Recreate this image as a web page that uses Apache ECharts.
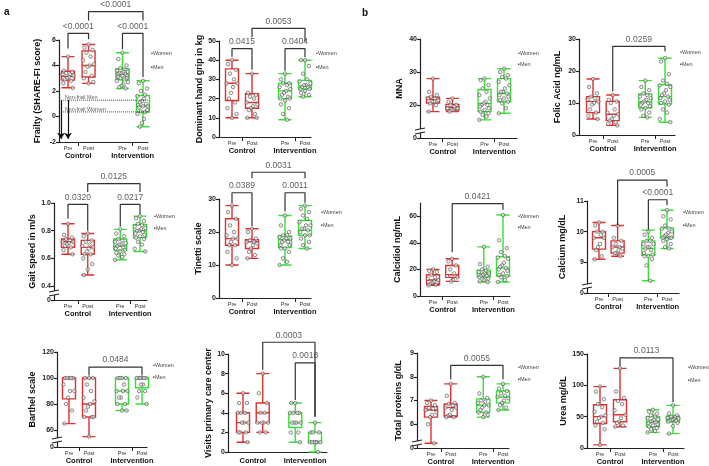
<!DOCTYPE html>
<html>
<head>
<meta charset="utf-8">
<script src="https://cdn.jsdelivr.net/npm/echarts@6/dist/echarts.min.js"></script>
<style>
  html, body { margin: 0; padding: 0; background: #fff; }
  #chart { width: 709px; height: 466px; }
</style>
</head>
<body>
<div id="chart"></div>
<script>
// categories
const groupLabels = ['Pre', 'Post', 'Pre', 'Post'];
const armLabels = ['Control', 'Intervention'];
const xPos = [1, 2, 3.65, 4.65];
const armPos = [1.5, 4.15];

// box stats per group: [min, Q1, median, Q3, max]  (Control Pre, Control Post, Intervention Pre, Intervention Post)
const frailtyBox = [[2.25, 2.85, 3.15, 3.55, 4.7], [2.6, 3.1, 4.0, 5.15, 5.65], [2.2, 2.9, 3.3, 3.75, 5.0], [-0.8, 0.35, 0.8, 1.65, 2.8]];
const gripBox = [[10, 19, 28, 35.5, 40], [10, 15, 18, 22.5, 33], [9, 20, 24, 28, 33], [21, 25, 26.5, 29.5, 40]];
const gaitBox = [[0.63, 0.68, 0.72, 0.74, 0.85], [0.48, 0.63, 0.68, 0.73, 0.78], [0.59, 0.66, 0.69, 0.74, 0.81], [0.65, 0.75, 0.80, 0.845, 0.905]];
const tinettiBox = [[10, 16, 18, 24, 28], [12, 15, 17, 17.7, 21], [10, 15.3, 17.7, 18.8, 25], [15, 19, 20.5, 23.5, 28]];
const barthelBox = [[65, 84, 100, 100, 100], [55, 70, 80, 100, 100], [75, 80, 90, 100, 100], [80, 92.5, 100, 100, 100]];
const visitsBox = [[1, 2, 3, 4, 6], [2, 3, 4, 5, 8], [1, 2.5, 3, 4, 5], [0, 1, 1, 2, 3]];
const mnaBox = [[18, 20.6, 21.7, 22.4, 28], [18, 18.5, 19.3, 20.2, 22], [15.5, 18, 20.5, 24.7, 28], [17.5, 21, 23.5, 28, 31]];
const folicBox = [[5, 7, 10.5, 12, 17.5], [3, 4.5, 6.5, 10.5, 12.5], [5.5, 8.5, 10.3, 12.8, 17], [4, 9.7, 12, 15.7, 24]];
const calcidiolBox = [[8, 9, 12, 16, 20], [11, 14, 16, 23, 28], [10.5, 14.5, 17, 19.5, 37], [10.5, 15, 21, 29.5, 61]];
const calciumBox = [[9.1, 9.43, 9.8, 10, 10.3], [9.2, 9.3, 9.5, 9.7, 10.2], [8.4, 9.23, 9.45, 9.7, 10.05], [9.45, 9.8, 9.83, 10.12, 10.7]];
const proteinBox = [[5.2, 6.3, 6.6, 6.75, 7.0], [6.3, 6.35, 6.7, 6.85, 7.7], [6.3, 6.5, 6.8, 7.07, 8.0], [6.6, 6.9, 7.15, 7.4, 7.7]];
const ureaBox = [[5, 39, 50, 69, 98], [34, 42, 53, 77, 127], [25, 34, 42, 50, 61], [23, 42, 47, 51, 68]];

// individual points per group
const frailtyPts = [
  [4.7, 3.6, 3.5, 3.4, 3.3, 3.3, 3.2, 3.1, 3.0, 2.9, 2.8, 2.6, 2.25],
  [5.65, 5.4, 5.2, 5.0, 4.7, 4.4, 4.1, 4.0, 3.9, 3.5, 3.2, 3.0, 2.7, 2.6],
  [5.0, 4.5, 4.0, 3.8, 3.7, 3.6, 3.5, 3.5, 3.4, 3.4, 3.3, 3.3, 3.2, 3.2, 3.1, 3.0, 3.0, 2.9, 2.8, 2.7, 2.5, 2.4, 2.3, 2.2],
  [2.8, 2.6, 2.2, 2.0, 1.7, 1.6, 1.5, 1.4, 1.2, 1.1, 1.0, 0.9, 0.8, 0.8, 0.7, 0.5, 0.4, 0.35, 0.2, 0.1, -0.2, -0.5, -0.8]
];
const gripPts = [
  [40, 38, 35, 33, 30, 28, 28, 26, 23, 20, 18, 15, 12, 10],
  [33, 23, 22, 21, 20, 18, 17, 16, 15, 14, 12, 10, 10],
  [33, 30, 28, 28, 27, 26, 25, 24, 23, 22, 21, 20, 20, 19, 17, 15, 12, 9],
  [40, 40, 37, 33, 30, 29, 28, 27, 27, 26, 26, 25, 25, 24, 23, 22, 21]
];
const gaitPts = [
  [0.85, 0.77, 0.75, 0.74, 0.73, 0.72, 0.72, 0.71, 0.70, 0.69, 0.68, 0.66, 0.63],
  [0.78, 0.76, 0.73, 0.72, 0.70, 0.69, 0.68, 0.67, 0.65, 0.63, 0.63, 0.60, 0.56, 0.52, 0.48],
  [0.81, 0.78, 0.76, 0.74, 0.73, 0.72, 0.71, 0.70, 0.70, 0.69, 0.68, 0.67, 0.66, 0.65, 0.64, 0.63, 0.62, 0.61, 0.59],
  [0.905, 0.89, 0.87, 0.85, 0.84, 0.83, 0.82, 0.81, 0.80, 0.80, 0.79, 0.78, 0.77, 0.76, 0.75, 0.74, 0.72, 0.70, 0.67, 0.65]
];
const tinettiPts = [
  [28, 26, 24, 22, 20, 19, 18, 18, 17, 16, 16, 14, 12, 10],
  [21, 20, 18, 17.5, 17, 17, 16.5, 16, 15, 14, 13, 12],
  [25, 22, 20, 19, 19, 18.5, 18, 18, 17.5, 17, 17, 16, 16, 15, 15, 14, 12, 11, 10],
  [28, 27, 26, 25, 24, 23, 22, 22, 21, 21, 20.5, 20, 19, 19, 18, 17, 16, 15]
];
const barthelPts = [
  [100, 100, 100, 100, 100, 95, 90, 90, 85, 80, 75, 65],
  [100, 100, 100, 95, 90, 85, 82, 80, 78, 75, 70, 70, 70, 55],
  [100, 100, 100, 100, 95, 90, 90, 90, 85, 85, 80, 80, 75, 75],
  [100, 100, 100, 100, 100, 100, 95, 95, 95, 90, 90, 85, 80]
];
const visitsPts = [
  [6, 5, 5, 4, 4, 4, 3, 3, 3, 2, 2, 2, 1],
  [8, 6, 5, 4, 4, 3, 3, 3, 3, 2, 2],
  [5, 5, 4, 4, 4, 4, 3, 3, 3, 3, 2, 2, 1],
  [3, 2, 2, 2, 1, 1, 1, 1, 1, 1, 0]
];
const mnaPts = [
  [28, 24, 23, 22.5, 22, 22, 21.5, 21, 21, 20.5, 20, 18],
  [22, 21, 20, 20, 19.5, 19, 19, 18.5, 18.5, 18],
  [28, 27.5, 26, 25, 24, 23, 22, 21, 20.5, 20, 20, 19.5, 19, 18.5, 18, 17.5, 17, 16.5, 15.5],
  [31, 30, 29, 28.5, 28, 27, 26, 25, 24, 24, 23.5, 23, 22.5, 22, 21.5, 21, 20.5, 19, 17.5]
];
const folicPts = [
  [17.5, 15, 13, 12, 11.5, 11, 10.5, 10, 9.5, 8, 7, 6, 5],
  [12.5, 11, 10.5, 10, 8, 7, 6.5, 6, 5, 4.5, 4, 3.5, 3],
  [17, 15, 14, 13, 12.5, 12, 11.5, 11, 10.5, 10, 10, 9.5, 9, 8.5, 8, 7, 6, 5.5],
  [24, 23, 19, 17, 16, 15.5, 15, 14, 13, 12.5, 12, 11.5, 11, 10.5, 10, 9.5, 8, 7, 5, 4]
];
const calcidiolPts = [
  [20, 19, 18, 16, 14, 13, 12, 11, 10, 9, 8.5, 8],
  [28, 26, 23, 20, 17, 15, 14, 12, 11],
  [37, 24, 22, 20, 19, 18, 17, 17, 16, 15, 15, 14, 13, 12, 11, 10.5],
  [61, 42, 36, 33, 30, 29, 28, 25, 23, 22, 21, 20, 19, 17, 16, 15, 14, 12, 10.5]
];
const calciumPts = [
  [10.3, 10.2, 10.0, 10.0, 9.9, 9.8, 9.8, 9.6, 9.5, 9.4, 9.2, 9.1],
  [10.2, 9.8, 9.7, 9.6, 9.5, 9.5, 9.45, 9.4, 9.3, 9.3, 9.2],
  [10.0, 9.9, 9.8, 9.7, 9.7, 9.6, 9.6, 9.5, 9.5, 9.45, 9.4, 9.3, 9.25, 9.2, 9.2, 9.1, 8.9, 8.4],
  [10.7, 10.5, 10.4, 10.2, 10.1, 10.1, 10.0, 9.95, 9.9, 9.85, 9.8, 9.8, 9.8, 9.75, 9.7, 9.6, 9.5, 9.45]
];
const proteinPts = [
  [7.0, 6.9, 6.8, 6.7, 6.65, 6.6, 6.5, 6.4, 6.3, 6.0, 5.2],
  [7.7, 7.2, 6.9, 6.85, 6.8, 6.7, 6.7, 6.6, 6.4, 6.35, 6.3, 6.3],
  [8.0, 7.3, 7.1, 7.0, 6.95, 6.9, 6.8, 6.8, 6.7, 6.6, 6.5, 6.5, 6.4, 6.3],
  [7.7, 7.5, 7.4, 7.3, 7.2, 7.15, 7.1, 7.0, 6.9, 6.8, 6.7, 6.6]
];
const ureaPts = [
  [98, 90, 78, 70, 65, 58, 52, 50, 48, 42, 40, 36, 30, 5],
  [127, 90, 80, 75, 70, 60, 53, 48, 42, 40, 36, 34],
  [61, 58, 55, 52, 50, 48, 46, 45, 43, 42, 41, 40, 38, 36, 34, 32, 30, 27, 25],
  [68, 55, 52, 50, 49, 48, 47, 46, 45, 44, 43, 42, 40, 35, 23]
];

// significance brackets: [group A, group B, bracket top, leg A bottom, leg B bottom, p-value]
const frailtyBr = [[0, 1, 6.52, 5.34, 6.05, '<0.0001'], [2, 3, 6.52, 5.27, 3.1, '<0.0001'], [1, 3, 8.23, 7.52, 7.52, '<0.0001']];
const gripBr = [[0, 1, 46, 41.8, 35, '0.0415'], [2, 3, 46, 34.5, 41.5, '0.0404'], [1, 3, 56.6, 52, 49.7, '0.0053']];
const gaitBr = [[0, 1, 0.99, 0.887, 0.80, '0.0320'], [2, 3, 0.99, 0.83, 0.92, '0.0217'], [1, 3, 1.14, 1.08, 1.08, '0.0125']];
const tinettiBr = [[0, 1, 31.9, 28.7, 21.8, '0.0389'], [2, 3, 31.9, 26.2, 28.9, '0.0011'], [1, 3, 38.1, 36.3, 36.3, '0.0031']];
const barthelBr = [[1, 3, 108.4, 102, 102, '0.0484']];
const visitsBr = [[1, 3, 11.2, 8.4, 3.6, '0.0003'], [2, 3, 9.1, 5.3, 3.6, '0.0018']];
const folicBr = [[1, 3, 27.7, 13.6, 26.1, '0.0259']];
const calcidiolBr = [[1, 3, 69.5, 33, 65, '0.0421']];
const calciumBr = [[1, 3, 11.68, 10.22, 11.47, '0.0005'], [2, 3, 11.04, 10.06, 10.86, '<0.0001']];
const proteinBr = [[1, 3, 8.48, 7.9, 7.9, '0.0055']];
const ureaBr = [[1, 3, 143.7, 130.6, 73, '0.0113']];

// frailty cut-offs
const frailtyCutoffs = [[1.28, 'Non-frail Men'], [0.36, 'Non-frail Women']];

const FONT = '"Liberation Sans", Arial, sans-serif';
const RED = '#e2302c';
const GREEN = '#36e036';
const armColor = [RED, RED, GREEN, GREEN];
const JIT = [0, -0.2, 0.2, -0.1, 0.1, -0.27, 0.27, 0.05, -0.05, -0.15, 0.15, -0.23, 0.23];

// layout of each panel (pixels)
const panels = [
  { name: 'Frailty (SHARE-FI score)', box: frailtyBox, pts: frailtyPts, br: frailtyBr, left: 59, top: 40, height: 102, p0: 68, p3: 143, right: 148, yMin: -2, yMax: 6, ticks: [-2, 0, 2, 4, 6], gap: 17, legend: [151, 53, 67] },
  { name: 'Dominant hand grip in kg', box: gripBox, pts: gripPts, br: gripBr, left: 219, top: 41, height: 96, p0: 232, p3: 305, right: 311, yMin: 0, yMax: 50, ticks: [0, 10, 20, 30, 40, 50], gap: 14, legend: [316, 53, 67] },
  { name: 'Gait speed in m/s', box: gaitBox, pts: gaitPts, br: gaitBr, left: 54, top: 203, height: 97, p0: 68, p3: 140, right: 147, yMin: 0.3, yMax: 1.0, ticks: [0.3, 0.4, 0.6, 0.8, 1.0], dec: 1, broken: true, gap: 16, legend: [154, 216, 228] },
  { name: 'Tinetti scale', box: tinettiBox, pts: tinettiPts, br: tinettiBr, left: 219, top: 199, height: 99, p0: 232, p3: 305, right: 311, yMin: 0, yMax: 30, ticks: [0, 10, 20, 30], gap: 16, legend: [321, 212, 225] },
  { name: 'Barthel scale', box: barthelBox, pts: barthelPts, br: barthelBr, left: 57, top: 352, height: 95, p0: 69, p3: 142, right: 147, yMin: 47, yMax: 120, ticks: [47, 60, 80, 100, 120], broken: true, gap: 20, legend: [153, 365, 377] },
  { name: 'Visits primary care center', box: visitsBox, pts: visitsPts, br: visitsBr, left: 228, top: 354, height: 98, p0: 243, p3: 315, right: 327, yMin: 0, yMax: 10, ticks: [0, 2, 4, 6, 8, 10], gap: 11, noPrePost: true },
  { name: 'MNA', box: mnaBox, pts: mnaPts, br: [], left: 420, top: 39, height: 99, p0: 433, p3: 504, right: 517, yMin: 10, yMax: 40, ticks: [10, 20, 30, 40], broken: true, gap: 16, legend: [518, 53, 64] },
  { name: 'Folic Acid ng/mL', box: folicBox, pts: folicPts, br: folicBr, left: 579, top: 39, height: 96, p0: 593, p3: 665, right: 675, yMin: 0, yMax: 30, ticks: [0, 10, 20, 30], gap: 17, legend: [680, 52, 64] },
  { name: 'Calcidiol ng/mL', box: calcidiolBox, pts: calcidiolPts, br: calcidiolBr, left: 420, top: 203, height: 93, p0: 433, p3: 503, right: 510, yMin: 0, yMax: 70, ticks: [0, 20, 40, 60], gap: 18, legend: [518, 216, 227] },
  { name: 'Calcium mg/dL', box: calciumBox, pts: calciumPts, br: calciumBr, left: 587, top: 201, height: 92, p0: 599, p3: 667, right: 679, yMin: 8, yMax: 11, ticks: [8, 9, 10, 11], broken: true, gap: 20, legend: [683, 212, 225] },
  { name: 'Total proteins g/dL', box: proteinBox, pts: proteinPts, br: proteinBr, left: 417, top: 353, height: 97, p0: 431, p3: 503, right: 509, yMin: 5, yMax: 9, ticks: [5, 6, 7, 8, 9], broken: true, gap: 14, legend: [518, 367, 379] },
  { name: 'Urea mg/dL', box: ureaBox, pts: ureaPts, br: ureaBr, left: 587, top: 354, height: 96, p0: 600, p3: 673, right: 684, yMin: 0, yMax: 150, ticks: [0, 50, 100, 150], gap: 18, legend: [688, 367, 380] }
];

const grids = [], xAxes = [], yAxes = [], series = [], graphics = [];
const nearestGroup = v => groupLabels[xPos.findIndex(p => Math.abs(p - v) < 0.01)] || '';

panels.forEach((p, i) => {
  const ppu = (p.p3 - p.p0) / (xPos[3] - xPos[0]);
  const xMin = xPos[0] - (p.p0 - p.left) / ppu;
  const xMax = xPos[3] + (p.right - p.p3) / ppu;
  grids.push({ left: p.left, top: p.top, width: p.right - p.left, height: p.height });

  // main x axis (Pre / Post)
  xAxes.push({
    gridIndex: i, type: 'value', min: xMin, max: xMax, position: 'bottom',
    axisLine: { show: true, onZero: false, lineStyle: { color: '#222', width: 1.2 } },
    axisTick: { show: !p.noPrePost, customValues: armPos, length: 4, lineStyle: { color: '#222', width: 1 } },
    axisLabel: { show: !p.noPrePost, customValues: xPos, formatter: nearestGroup, fontFamily: FONT, fontSize: 5.5, color: '#333', margin: 3 },
    splitLine: { show: false }
  });
  // group labels (Control / Intervention)
  xAxes.push({
    gridIndex: i, type: 'value', min: xMin, max: xMax, position: 'bottom',
    axisLine: { show: false, onZero: false }, axisTick: { show: false }, splitLine: { show: false },
    axisLabel: { customValues: armPos, formatter: v => (v < 3 ? armLabels[0] : armLabels[1]), fontFamily: FONT, fontSize: 7.5, fontWeight: 'bold', color: '#111', margin: p.noPrePost ? 5 : 10 }
  });
  yAxes.push({
    gridIndex: i, type: 'value', min: p.yMin, max: p.yMax,
    name: p.name, nameLocation: 'middle', nameGap: p.gap,
    nameTextStyle: { fontFamily: FONT, fontWeight: 'bold', fontSize: 9, color: '#111' },
    axisLine: { show: true, onZero: false, lineStyle: { color: '#222', width: 1.2 } },
    axisTick: { show: true, customValues: p.ticks, length: 3, lineStyle: { color: '#222', width: 1.2 } },
    axisLabel: {
      customValues: p.ticks, margin: 3, fontFamily: FONT, fontWeight: 'bold', fontSize: 7, color: '#222',
      formatter: v => (p.broken && v === p.yMin) ? '0' : (p.dec ? v.toFixed(p.dec) : String(v))
    },
    splitLine: { show: false }
  });

  series.push({
    type: 'boxplot', xAxisIndex: 2 * i, yAxisIndex: i, boxWidth: [13, 13], silent: true, z: 2,
    encode: { x: 0, y: [1, 2, 3, 4, 5] },
    data: p.box.map((b, g) => ({ value: [xPos[g], ...b], itemStyle: { color: 'rgba(255,255,255,0)', borderColor: armColor[g], borderWidth: 1.4 } }))
  });

  const pts = [];
  p.pts.forEach((vals, g) => vals.forEach((v, k) => pts.push([xPos[g] + JIT[k % JIT.length], v])));
  series.push({
    type: 'scatter', xAxisIndex: 2 * i, yAxisIndex: i, silent: true, z: 3, symbol: 'circle', symbolSize: 3.5,
    itemStyle: { color: 'rgba(235,235,235,0.8)', borderColor: '#555', borderWidth: 0.8 },
    data: pts
  });

  p.br.forEach(b => {
    const [ga, gb, top, la, lb, txt] = b;
    series.push({
      type: 'line', xAxisIndex: 2 * i, yAxisIndex: i, silent: true, clip: false, z: 5, symbol: 'none',
      lineStyle: { color: '#333', width: 1.2 },
      data: [[xPos[ga], la], [xPos[ga], top], [xPos[gb], top], [xPos[gb], lb]]
    });
    series.push({
      type: 'scatter', xAxisIndex: 2 * i, yAxisIndex: i, silent: true, clip: false, z: 5, symbolSize: 1,
      itemStyle: { color: 'rgba(0,0,0,0)' },
      label: { show: true, position: 'top', distance: 2, formatter: txt, fontFamily: FONT, fontSize: 8.5, color: '#333' },
      data: [[(xPos[ga] + xPos[gb]) / 2, top]]
    });
  });

  if (i === 0) {
    frailtyCutoffs.forEach(c => {
      series.push({
        type: 'line', xAxisIndex: 0, yAxisIndex: 0, silent: true, z: 4, symbol: 'none',
        lineStyle: { color: '#444', width: 1, type: 'dotted' },
        data: [[xMin + 0.2, c[0]], [xMax, c[0]]]
      });
      series.push({
        type: 'scatter', xAxisIndex: 0, yAxisIndex: 0, silent: true, z: 4, symbolSize: 1,
        itemStyle: { color: 'rgba(0,0,0,0)' },
        label: { show: true, position: 'right', distance: 0, formatter: c[1], fontFamily: FONT, fontSize: 5.5, color: '#333' },
        data: [[xMin + 0.25, c[0] + 0.2]]
      });
    });
    series.push({
      type: 'scatter', xAxisIndex: 0, yAxisIndex: 0, silent: true, symbolSize: 0, data: [],
      markLine: {
        silent: true, symbol: ['none', 'arrow'], symbolSize: 6, label: { show: false },
        lineStyle: { color: '#111', width: 1.2, type: 'solid' },
        data: [
          [{ coord: [xMin + 0.1, 1.3] }, { coord: [xMin + 0.1, -1.75] }],
          [{ coord: [xPos[0], 1.3] }, { coord: [xPos[0], -1.75] }]
        ]
      }
    });
  }

  if (p.legend) {
    const [lx, ly1, ly2] = p.legend;
    graphics.push({ type: 'text', x: lx, y: ly1, style: { text: '•Women', font: '5.5px ' + FONT, fill: '#444', verticalAlign: 'middle' } });
    graphics.push({ type: 'text', x: lx, y: ly2, style: { text: '▪Men', font: '5.5px ' + FONT, fill: '#444', verticalAlign: 'middle' } });
  }

  if (p.broken) {
    const bx = p.left, by = p.top + p.height;
    graphics.push({ type: 'rect', z: 100, shape: { x: bx - 2, y: by - 9, width: 4, height: 4 }, style: { fill: '#fff' } });
    graphics.push({ type: 'line', z: 101, shape: { x1: bx - 5, y1: by - 8, x2: bx + 5, y2: by - 10 }, style: { stroke: '#222', lineWidth: 1.1 } });
    graphics.push({ type: 'line', z: 101, shape: { x1: bx - 5, y1: by - 4, x2: bx + 5, y2: by - 6 }, style: { stroke: '#222', lineWidth: 1.1 } });
  }
});

graphics.push({ type: 'text', x: 4, y: 12, style: { text: 'a', font: 'bold 10px ' + FONT, fill: '#111', verticalAlign: 'middle' } });
graphics.push({ type: 'text', x: 362, y: 13, style: { text: 'b', font: 'bold 10px ' + FONT, fill: '#111', verticalAlign: 'middle' } });

const chart = echarts.init(document.getElementById('chart'), null, { renderer: 'canvas' });
chart.setOption({
  animation: false,
  backgroundColor: '#fff',
  grid: grids,
  xAxis: xAxes,
  yAxis: yAxes,
  series: series,
  graphic: graphics
});
window.addEventListener('resize', () => chart.resize());
</script>
</body>
</html>
